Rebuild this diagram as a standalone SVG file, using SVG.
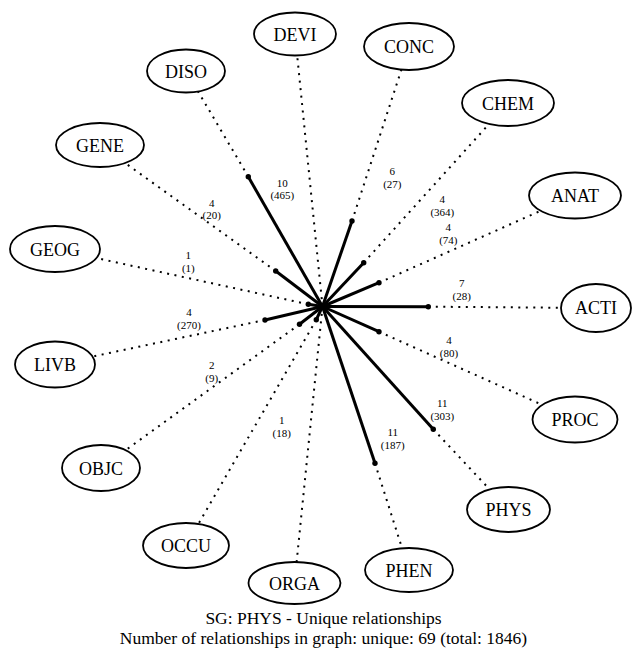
<svg xmlns="http://www.w3.org/2000/svg" width="633" height="651" viewBox="0 0 633 651">
<style>
.bg{fill:#fff}
.dot{stroke:#000;stroke-width:2;stroke-dasharray:2 5.5;fill:none}
.sol{stroke:#000;stroke-width:3;fill:none}
.end{fill:#000}
.node ellipse{fill:#fff;stroke:#000;stroke-width:1.8}
text{font-family:'Liberation Serif','Times New Roman',Times,'DejaVu Serif','Noto Serif',serif;fill:#000;text-anchor:middle}
.node text{font-size:18px}
.lbl{font-size:11px}
.title{font-size:17.5px}
</style>
<rect class="bg" x="0" y="0" width="633" height="651"/>
<g id="connectors">
  <line class="dot" x1="322.5" y1="306.5" x2="295" y2="34"/>
  <line class="dot" x1="352" y1="221" x2="409" y2="46.5"/>
  <line class="dot" x1="248.3" y1="176.7" x2="186" y2="71"/>
  <line class="dot" x1="363.7" y1="262.7" x2="508" y2="103"/>
  <line class="dot" x1="275.7" y1="271" x2="100" y2="145"/>
  <line class="dot" x1="379" y1="282.7" x2="575" y2="195.5"/>
  <line class="dot" x1="308.3" y1="304.3" x2="55" y2="249"/>
  <line class="dot" x1="428.3" y1="306.7" x2="596" y2="308"/>
  <line class="dot" x1="265" y1="320" x2="55" y2="364.5"/>
  <line class="dot" x1="379" y1="331.7" x2="575" y2="419.5"/>
  <line class="dot" x1="299.5" y1="324.3" x2="101" y2="468"/>
  <line class="dot" x1="433.3" y1="429.3" x2="508.5" y2="509.5"/>
  <line class="dot" x1="316.3" y1="319.7" x2="186" y2="545.5"/>
  <line class="dot" x1="375" y1="463.3" x2="409" y2="570"/>
  <line class="dot" x1="322.5" y1="306.5" x2="294.5" y2="583"/>

  <line class="sol" x1="322.5" y1="306.5" x2="352" y2="221"/>
  <line class="sol" x1="322.5" y1="306.5" x2="248.3" y2="176.7"/>
  <line class="sol" x1="322.5" y1="306.5" x2="363.7" y2="262.7"/>
  <line class="sol" x1="322.5" y1="306.5" x2="275.7" y2="271"/>
  <line class="sol" x1="322.5" y1="306.5" x2="379" y2="282.7"/>
  <line class="sol" x1="322.5" y1="306.5" x2="308.3" y2="304.3"/>
  <line class="sol" x1="322.5" y1="306.5" x2="428.3" y2="306.7"/>
  <line class="sol" x1="322.5" y1="306.5" x2="265" y2="320"/>
  <line class="sol" x1="322.5" y1="306.5" x2="379" y2="331.7"/>
  <line class="sol" x1="322.5" y1="306.5" x2="299.5" y2="324.3"/>
  <line class="sol" x1="322.5" y1="306.5" x2="433.3" y2="429.3"/>
  <line class="sol" x1="322.5" y1="306.5" x2="316.3" y2="319.7"/>
  <line class="sol" x1="322.5" y1="306.5" x2="375" y2="463.3"/>

  <circle class="end" cx="322.5" cy="306.5" r="3.5"/>
  <circle class="end" cx="352" cy="221" r="2.7"/>
  <circle class="end" cx="248.3" cy="176.7" r="2.7"/>
  <circle class="end" cx="363.7" cy="262.7" r="2.7"/>
  <circle class="end" cx="275.7" cy="271" r="2.7"/>
  <circle class="end" cx="379" cy="282.7" r="2.7"/>
  <circle class="end" cx="308.3" cy="304.3" r="2.7"/>
  <circle class="end" cx="428.3" cy="306.7" r="2.7"/>
  <circle class="end" cx="265" cy="320" r="2.7"/>
  <circle class="end" cx="379" cy="331.7" r="2.7"/>
  <circle class="end" cx="299.5" cy="324.3" r="2.7"/>
  <circle class="end" cx="433.3" cy="429.3" r="2.7"/>
  <circle class="end" cx="316.3" cy="319.7" r="2.7"/>
  <circle class="end" cx="375" cy="463.3" r="2.7"/>

  <text class="lbl" x="282.3" y="186.7">10</text><text class="lbl" x="282.3" y="199.2">(465)</text>
  <text class="lbl" x="392.3" y="175">6</text><text class="lbl" x="392.3" y="187.5">(27)</text>
  <text class="lbl" x="211.7" y="206.7">4</text><text class="lbl" x="211.7" y="219.2">(20)</text>
  <text class="lbl" x="442.3" y="203.3">4</text><text class="lbl" x="442.3" y="215.8">(364)</text>
  <text class="lbl" x="448.3" y="231.3">4</text><text class="lbl" x="448.3" y="243.8">(74)</text>
  <text class="lbl" x="188.3" y="259">1</text><text class="lbl" x="188.3" y="271.5">(1)</text>
  <text class="lbl" x="461.7" y="287.3">7</text><text class="lbl" x="461.7" y="299.8">(28)</text>
  <text class="lbl" x="189" y="316.3">4</text><text class="lbl" x="189" y="328.8">(270)</text>
  <text class="lbl" x="449" y="344">4</text><text class="lbl" x="449" y="356.5">(80)</text>
  <text class="lbl" x="211.7" y="369">2</text><text class="lbl" x="211.7" y="381.5">(9)</text>
  <text class="lbl" x="281.7" y="424">1</text><text class="lbl" x="281.7" y="436.5">(18)</text>
  <text class="lbl" x="442.3" y="407.3">11</text><text class="lbl" x="442.3" y="419.8">(303)</text>
  <text class="lbl" x="392.7" y="436.3">11</text><text class="lbl" x="392.7" y="448.8">(187)</text>
</g>
<g id="DEVI" class="node"><ellipse cx="295" cy="34" rx="41" ry="21.5"/><text x="295" y="40.5">DEVI</text></g>
<g id="CONC" class="node"><ellipse cx="409" cy="46.5" rx="45" ry="23.5"/><text x="409" y="53">CONC</text></g>
<g id="DISO" class="node"><ellipse cx="186" cy="71" rx="39" ry="21.5"/><text x="186" y="77.5">DISO</text></g>
<g id="CHEM" class="node"><ellipse cx="508" cy="103" rx="46" ry="23"/><text x="508" y="109.5">CHEM</text></g>
<g id="GENE" class="node"><ellipse cx="100" cy="145" rx="44" ry="22"/><text x="100" y="151.5">GENE</text></g>
<g id="ANAT" class="node"><ellipse cx="575" cy="195.5" rx="46" ry="23"/><text x="575" y="202">ANAT</text></g>
<g id="GEOG" class="node"><ellipse cx="55" cy="249" rx="45" ry="23"/><text x="55" y="255.5">GEOG</text></g>
<g id="ACTI" class="node"><ellipse cx="596" cy="308" rx="35" ry="24"/><text x="596" y="314">ACTI</text></g>
<g id="LIVB" class="node"><ellipse cx="55" cy="364.5" rx="40" ry="23"/><text x="55" y="371">LIVB</text></g>
<g id="PROC" class="node"><ellipse cx="575" cy="419.5" rx="42.5" ry="23"/><text x="575" y="426">PROC</text></g>
<g id="OBJC" class="node"><ellipse cx="101" cy="468" rx="39" ry="23"/><text x="101" y="474.5">OBJC</text></g>
<g id="PHYS" class="node"><ellipse cx="508.5" cy="509.5" rx="41.5" ry="22.5"/><text x="508.5" y="516">PHYS</text></g>
<g id="OCCU" class="node"><ellipse cx="186" cy="545.5" rx="43" ry="22.5"/><text x="186" y="552">OCCU</text></g>
<g id="PHEN" class="node"><ellipse cx="409" cy="570" rx="44" ry="22"/><text x="409" y="576.5">PHEN</text></g>
<g id="ORGA" class="node"><ellipse cx="294.5" cy="583" rx="46" ry="21"/><text x="294.5" y="589.5">ORGA</text></g>
<g id="title">
  <text class="title" x="323.5" y="624">SG: PHYS - Unique relationships</text>
  <text class="title" x="323.5" y="644">Number of relationships in graph: unique: 69 (total: 1846)</text>
</g>
</svg>
